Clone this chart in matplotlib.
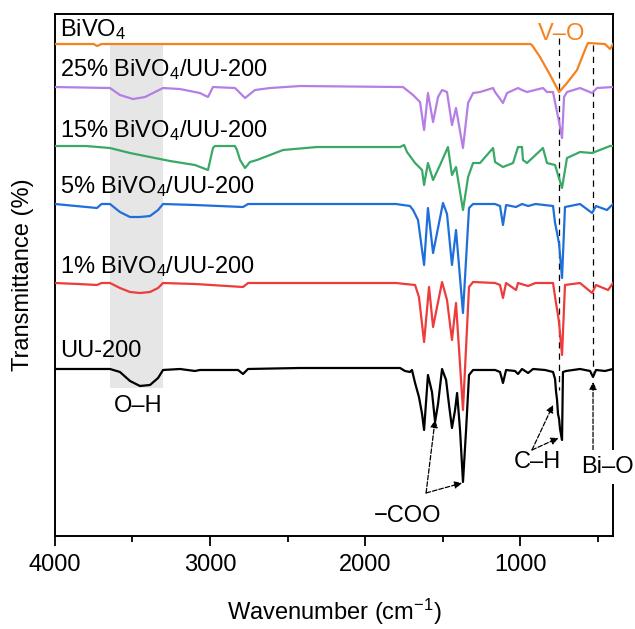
import matplotlib
matplotlib.use("Agg")
import matplotlib.pyplot as plt
from matplotlib.ticker import MultipleLocator

plt.rcParams['font.family'] = ['Liberation Sans', 'DejaVu Sans']
plt.rcParams['mathtext.fontset'] = 'custom'
plt.rcParams['mathtext.rm'] = 'Liberation Sans'
plt.rcParams['mathtext.it'] = 'Liberation Sans:italic'

# spectra: wavenumber (cm-1) and transmittance relative to each baseline (a.u.)
uu_wn = [4000, 3645, 3581, 3516, 3452, 3387, 3335, 3303, 3194, 3097, 3065, 2819, 2787, 2755, 2419,
         1774, 1742, 1710, 1697, 1677, 1652, 1632, 1619, 1594, 1568, 1548, 1529, 1503, 1477, 1458,
         1439, 1419, 1406, 1387, 1368, 1348, 1329, 1303, 1258, 1161, 1129, 1110, 1090, 1032, 1013,
         987, 948, 916, 839, 787, 774, 768, 761, 755, 748, 742, 729, 723, 703, 613, 548, 529, 510, 452, 400]
uu_t = [0, 0, -3, -12, -17, -16, -9, -1, 0, -2, -1, -1, -5, 0, 1,
        1, -2, -3, -1, -14, -28, -45, -61, -6, -23, -53, -35, 0, -11, -36,
        -59, -41, -24, -61, -113, -61, -6, -1, -1, -1, -3, -14, -1, -2, -5,
        0, -4, 0, -1, -3, -10, -22, -31, -45, -50, -60, -71, -3, -2, 0, -2, -8, -1, -2, 0]

r_wn = [4000, 3850, 3729, 3700, 3645, 3581, 3516, 3452, 3387, 3335, 3303, 3097, 2787, 2755, 2400,
        1800, 1742, 1677, 1652, 1619, 1587, 1561, 1503, 1471, 1439, 1413, 1368, 1329, 1303, 1161,
        1129, 1110, 1090, 1026, 1013, 948, 900, 787, 768, 755, 748, 729, 710, 613, 535, 510, 432, 400]
r_t = [0, -1, -2, 0, 0, -5, -9, -10, -9, -5, 0, -1, -4, 0, 0,
       0, -1, -2, -14, -59, -4, -44, 1, -17, -57, -20, -127, -4, 1, 0,
       -2, -15, 0, -7, 0, -3, 0, 0, -20, -32, -40, -72, -2, 0, -10, -2, -7, 0]

b_wn = [4000, 3729, 3700, 3645, 3581, 3516, 3452, 3387, 3335, 3303, 3097, 2787, 2755, 1800, 1710,
        1690, 1658, 1619, 1594, 1561, 1497, 1471, 1439, 1413, 1368, 1329, 1303, 1161, 1129, 1110,
        1090, 1026, 987, 948, 900, 787, 774, 761, 748, 729, 710, 613, 535, 510, 439, 400]
b_t = [0, -4, 0, 0, -8, -13, -13, -12, -6, 0, -1, -3, 0, 0, -2,
       -6, -16, -61, -4, -49, 1, -10, -61, -26, -109, -4, 0, 0, -2, -21,
       -1, -3, 0, -2, 0, -2, -19, -29, -40, -74, -3, 0, -9, -2, -6, 0]

g_wn = [4000, 3800, 3645, 3516, 3387, 3258, 3097, 3013, 2981, 2968, 2839, 2826, 2806, 2774, 2742,
        2697, 2529, 2310, 1884, 1774, 1748, 1729, 1677, 1632, 1619, 1594, 1561, 1516, 1465, 1439,
        1413, 1368, 1335, 1303, 1258, 1174, 1161, 1110, 1045, 1013, 987, 981, 955, 852, 826,
        774, 729, 697, 613, 535, 419, 400]
g_t = [0, 0, -2, -7, -11, -15, -19, -24, -2, 0, 0, -4, -14, -22, -16,
       -14, -4, -1, -1, -1, 1, -6, -17, -24, -39, -17, -34, -19, -1, -29,
       -21, -64, -31, -17, -17, -2, -16, -21, -17, -1, -1, -14, -17, -2, -17,
       -19, -42, -12, -6, -7, 0, 0]

p_wn = [4000, 3645, 3581, 3497, 3419, 3355, 3303, 3194, 3065, 3013, 2981, 2839, 2806, 2774, 2742,
        2710, 2613, 2419, 1774, 1755, 1690, 1645, 1619, 1594, 1561, 1529, 1503, 1471, 1439, 1413,
        1368, 1335, 1303, 1258, 1174, 1161, 1110, 1084, 1013, 987, 955, 852, 826, 787, 768,
        748, 729, 716, 697, 613, 535, 503, 400]
p_t = [0, -1, -8, -12, -10, -5, -1, -2, -6, -10, 0, -1, -6, -11, -7,
       -3, -1, 1, 0, 0, -8, -15, -43, -6, -35, -10, -3, -5, -38, -21,
       -61, -16, -6, -5, -1, -5, -16, -6, -1, -3, -5, -1, -5, -5, -20,
       -35, -51, -10, -5, -1, -6, -1, 0]

o_wn = [4000, 3750, 3729, 3700, 935, 923, 871, 806, 748, 697, 632, 594, 568, 561, 452, 419, 400]
o_t = [0, 0, -2, 0, 0, -1, -13, -31, -48, -39, -26, -11, -1, 1, 0, -5, 0]

labels = ['UU-200', '1% BiVO$_4$/UU-200', '5% BiVO$_4$/UU-200',
          '15% BiVO$_4$/UU-200', '25% BiVO$_4$/UU-200', 'BiVO$_4$']
offsets = [167, 253, 332, 390, 449, 492]
label_y = [179, 263, 343, 399, 460, 500]
colors = ['black', '#EE3B3B', '#1F6FDB', '#3AA866', '#B57EE5', '#F5821F']
spectra = [(uu_wn, uu_t), (r_wn, r_t), (b_wn, b_t), (g_wn, g_t), (p_wn, p_t), (o_wn, o_t)]

oh_band = (3645, 3300)
oh_band_y = (148, 493)
vo_pos = 748
bio_pos = 529

fig = plt.figure(figsize=(6.35, 6.29), dpi=100)
ax = fig.add_axes([0.0866, 0.1479, 0.8788, 0.8298])

ax.fill_betweenx(oh_band_y, oh_band[0], oh_band[1], color='#E6E6E6', lw=0, zorder=0)

for (wn, t), off, c, lab, ly in zip(spectra, offsets, colors, labels, label_y):
    ax.plot(wn, [off + v for v in t], color=c, lw=1.6, zorder=3)
    ax.text(3968, ly, lab, fontsize=17, va='baseline', ha='left')

# dashed guide lines
ax.plot([vo_pos, vo_pos], [498, 146], color='k', lw=0.9, ls=(0, (5, 4)), zorder=2)
ax.plot([bio_pos, bio_pos], [491, 164], color='k', lw=0.9, ls=(0, (5, 4)), zorder=2)

arrow = dict(arrowstyle='-|>', ls='--', lw=0.9, color='k', mutation_scale=11,
             shrinkA=0, shrinkB=0)
ax.annotate('', xy=(1548, 116), xytext=(1606, 43), arrowprops=arrow)
ax.annotate('', xy=(1374, 53), xytext=(1606, 43), arrowprops=arrow)
ax.annotate('', xy=(787, 131), xytext=(923, 86), arrowprops=arrow)
ax.annotate('', xy=(752, 98), xytext=(923, 86), arrowprops=arrow)
ax.annotate('', xy=(bio_pos, 154), xytext=(bio_pos, 86), arrowprops=arrow)

ax.text(3465, 124, 'O–H', fontsize=17, ha='center', va='baseline')
ax.text(1723, 14, '−COO', fontsize=17, ha='center', va='baseline')
ax.text(890, 68, 'C–H', fontsize=17, ha='center', va='baseline')
ax.text(729, 496, 'V–O', fontsize=17, ha='center', va='baseline', color='#F5821F', zorder=5)
ax.text(439, 63, 'Bi–O', fontsize=17, ha='center', va='baseline', clip_on=False, zorder=6,
        bbox=dict(facecolor='white', edgecolor='none', pad=4))

ax.set_xlim(4000, 400)
ax.set_ylim(0, 522)
ax.xaxis.set_major_locator(MultipleLocator(1000))
ax.xaxis.set_minor_locator(MultipleLocator(500))
ax.tick_params(axis='x', which='major', direction='out', length=7, width=1.3, labelsize=17, pad=6)
ax.tick_params(axis='x', which='minor', direction='out', length=4, width=1.3)
ax.set_yticks([])
for s in ax.spines.values():
    s.set_linewidth(1.4)

ax.set_xlabel('Wavenumber (cm$^{-1}$)', fontsize=17, labelpad=15)
ax.set_ylabel('Transmittance (%)', fontsize=17, labelpad=15)

fig.savefig('out.png', dpi=100)
